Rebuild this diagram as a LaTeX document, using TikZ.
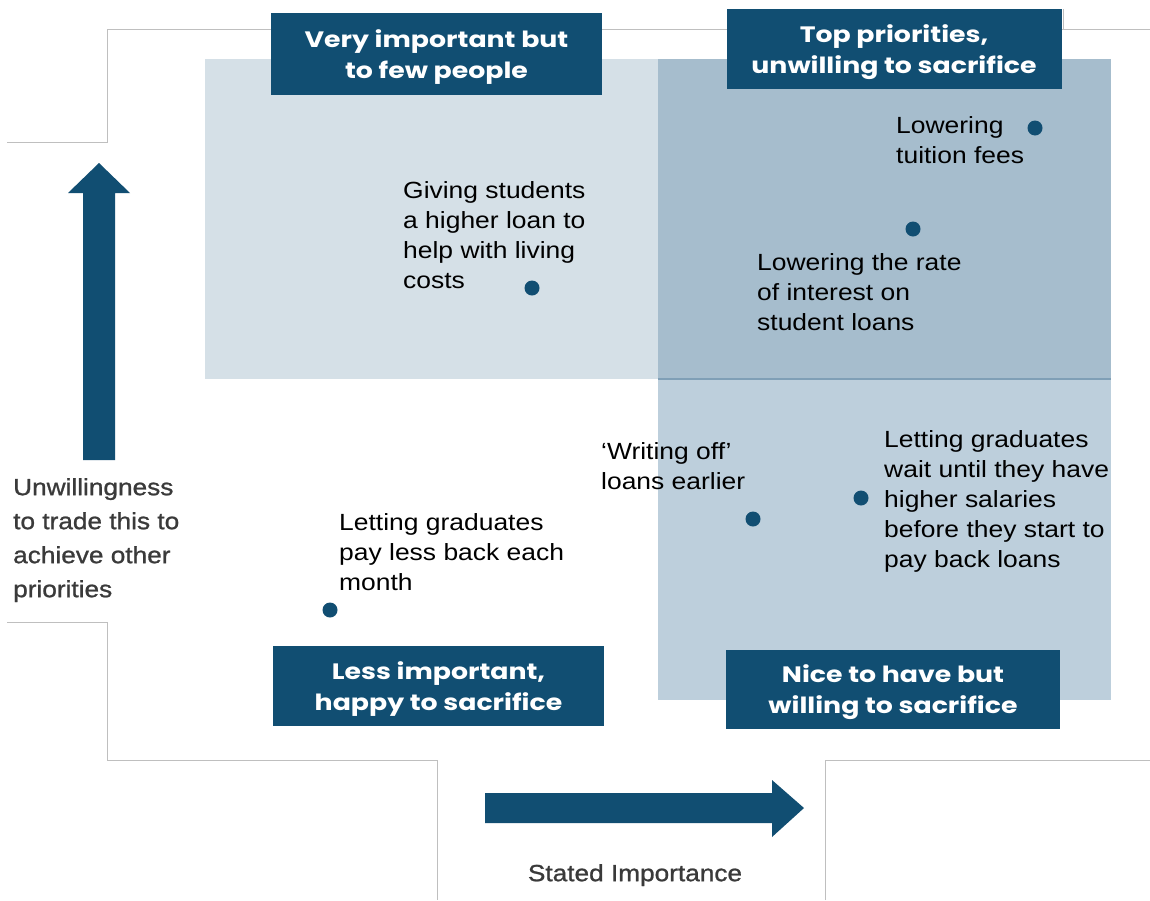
\documentclass[tikz,border=0pt]{standalone}
\usepackage{fontspec}
\setmainfont{Liberation Sans}
\newfontfamily\itemfont{Liberation Sans}[FakeStretch=1.13]
\newfontfamily\axisfont{Liberation Sans}[FakeStretch=1.12, FakeBold=1]
\newfontfamily\titlefont{Poppins}[FakeStretch=1.2]
\definecolor{navy}{HTML}{114E72}
\definecolor{framegrey}{HTML}{BFBFBF}
\definecolor{qtl}{HTML}{D5E0E7}
\definecolor{qtr}{HTML}{A6BDCD}
\definecolor{qbr}{HTML}{BDCFDC}
\definecolor{divline}{HTML}{7F9FB6}
\definecolor{axisgrey}{HTML}{3A3A3A}
\tikzset{
  frame/.style={draw=framegrey, line width=1pt},
  item/.style={font={\itemfont\fontsize{23.4}{30}\selectfont}, text=black, inner sep=0pt, align=left, anchor=north west},
  axislabel/.style={font={\axisfont\fontsize{23.4}{34}\selectfont}, text=axisgrey, inner sep=0pt, align=left, anchor=north west},
  titlebox/.style={fill=navy, inner sep=0pt},
  titletext/.style={text=white, font={\titlefont\bfseries\fontsize{22.3}{31}\selectfont}, align=center, inner sep=0pt},
  dot/.style={circle, fill=navy, inner sep=0pt, minimum size=15pt},
  bigarrow/.style={fill=navy}
}
\begin{document}
\begin{tikzpicture}[x=1pt,y=-1pt]
\useasboundingbox (0,0) rectangle (1150,900);
\fill[white] (0,0) rectangle (1150,900);
% grey frame lines
\draw[frame] (7,142) -- (107,142) -- (107,29) -- (1150,29);
\draw[frame] (1063,9) -- (1063,29);
\draw[frame] (7,622) -- (107,622) -- (107,760) -- (437,760) -- (437,900);
\draw[frame] (825,900) -- (825,760) -- (1150,760);
% quadrants
\fill[qtl] (205,59) rectangle (658,379);
\fill[qtr] (658,59) rectangle (1111,379);
\fill[qbr] (658,379) rectangle (1111,700);
\draw[divline, line width=2pt] (658,379) -- (1111,379);
% title boxes
\node[titlebox, minimum width=331pt, minimum height=82pt] (tl) at (436.5,54) {};
\node[titletext] (tltext) at ([yshift=-3pt]tl.center) {Very important but\\to few people};
\node[titlebox, minimum width=335pt, minimum height=80pt] (tr) at (894,49) {};
\node[titletext] (trtext) at ([yshift=-3pt]tr.center) {Top priorities,\\unwilling to sacrifice};
\node[titlebox, minimum width=331pt, minimum height=80pt] (bl) at (438.5,686) {};
\node[titletext] (bltext) at ([yshift=-3pt]bl.center) {Less important,\\happy to sacrifice};
\node[titlebox, minimum width=334pt, minimum height=79pt] (br) at (893,689.5) {};
\node[titletext] (brtext) at ([yshift=-3pt]br.center) {Nice to have but\\willing to sacrifice};
% arrows
\fill[bigarrow] (83,460) -- (83,193) -- (68,193) -- (99,163) -- (130,193) -- (115,193) -- (115,460) -- cycle;
\fill[bigarrow] (485,793) -- (772,793) -- (772,780) -- (804,808) -- (772,837) -- (772,823) -- (485,823) -- cycle;
% axis labels
\node[axislabel] (ylab) at (13,478) {Unwillingness\\to trade this to\\achieve other\\priorities};
\node[axislabel, anchor=north] (xlab) at (635,864) {Stated Importance};
% items
\node[item] (giving) at (403,181) {Giving students\\a higher loan to\\help with living\\costs};
\node[dot] (dgiving) at (532,288) {};
\node[item] (tuition) at (896,116) {Lowering\\tuition fees};
\node[dot] (dtuition) at (1035,128) {};
\node[item] (rate) at (757,253) {Lowering the rate\\of interest on\\student loans};
\node[dot] (drate) at (913,229) {};
\node[item] (writeoff) at (601,442) {‘Writing off’\\loans earlier};
\node[dot] (dwriteoff) at (753,519) {};
\node[item] (wait) at (884,430) {Letting graduates\\wait until they have\\higher salaries\\before they start to\\pay back loans};
\node[dot] (dwait) at (861,498) {};
\node[item] (payless) at (339,513) {Letting graduates\\pay less back each\\month};
\node[dot] (dpayless) at (330,610) {};
\end{tikzpicture}
\end{document}
